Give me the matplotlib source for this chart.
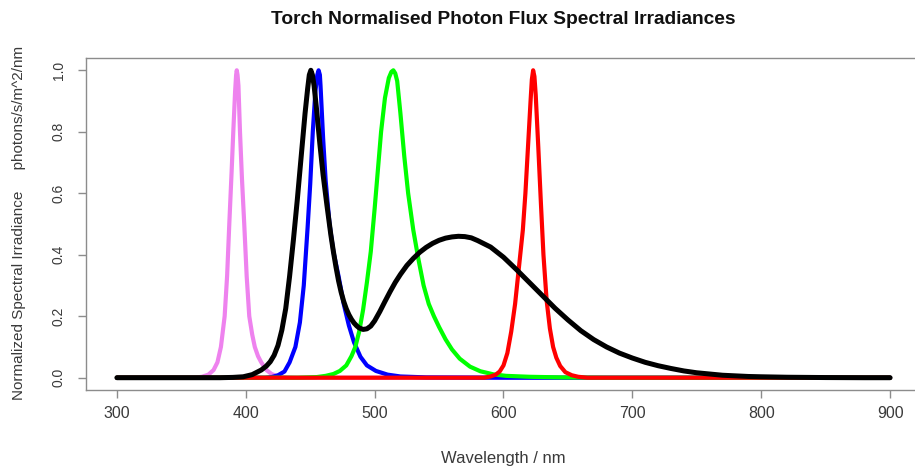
"""Torch normalised photon flux spectra, redrawn in matplotlib."""
import matplotlib
matplotlib.use("Agg")
import matplotlib.pyplot as plt

# wavelength (nm) / normalised value pairs
violet_wl = [300, 360, 366, 371, 375, 378, 380.7, 383.6, 385.5, 387.2, 389, 390.3,
             391.7, 392.5, 393, 393.6, 394.3, 395.5, 397, 398.8, 400.7, 402.7, 405,
             407, 409.5, 412, 416, 420, 425, 432, 440, 900]
violet_val = [0, 0, 0.003, 0.01, 0.025, 0.05, 0.1, 0.2, 0.33, 0.5, 0.67, 0.8,
              0.93, 0.985, 1.0, 0.985, 0.95, 0.8, 0.65, 0.5, 0.33, 0.2, 0.14,
              0.1, 0.07, 0.05, 0.025, 0.012, 0.004, 0.001, 0, 0]

blue_wl = [300, 415, 420, 425, 430, 434, 438.5, 442, 445, 448, 450, 452, 454,
           455.5, 456.5, 457.5, 458, 460, 462, 465, 468, 472, 476, 480, 484,
           489, 494, 501, 510, 520, 540, 600, 900]
blue_val = [0, 0, 0.002, 0.008, 0.02, 0.05, 0.1, 0.18, 0.3, 0.49, 0.63, 0.8, 0.93,
            0.985, 1.0, 0.985, 0.95, 0.78, 0.64, 0.5, 0.41, 0.33, 0.24, 0.17, 0.115,
            0.068, 0.04, 0.022, 0.01, 0.004, 0.001, 0, 0]

green_wl = [300, 440, 455, 462, 468, 473, 478, 482, 485, 488, 491, 494, 497, 500,
            502, 505, 508, 511, 513, 514.5, 516, 517.5, 520, 523, 526, 530, 534,
            538, 542, 546, 550, 555, 560, 566, 574, 582, 592, 602, 620, 645, 680,
            900]
green_val = [0, 0, 0.002, 0.006, 0.012, 0.022, 0.04, 0.07, 0.1, 0.15, 0.22, 0.31,
             0.41, 0.55, 0.65, 0.8, 0.91, 0.975, 0.995, 1.0, 0.99, 0.965, 0.86, 0.72,
             0.6, 0.48, 0.385, 0.3, 0.24, 0.2, 0.165, 0.125, 0.092, 0.062, 0.036,
             0.021, 0.011, 0.006, 0.003, 0.001, 0, 0]

red_wl = [300, 585, 590, 594, 597, 600, 603, 606, 609, 612, 615, 617, 619, 621,
          622, 623, 624, 625, 627, 629, 631, 633.5, 636, 638.5, 641, 644, 648,
          653, 658, 665, 900]
red_val = [0, 0, 0.004, 0.01, 0.02, 0.04, 0.08, 0.15, 0.24, 0.36, 0.48, 0.6, 0.75,
           0.9, 0.97, 1.0, 0.98, 0.92, 0.75, 0.57, 0.4, 0.25, 0.16, 0.1, 0.065,
           0.038, 0.018, 0.008, 0.003, 0, 0]

black_wl = [300, 380, 390, 398, 405, 412, 416, 419, 422, 425, 428, 431, 434, 437,
            440, 443, 446, 448, 449.3, 450.5, 451.7, 453, 455, 457.5, 460, 463,
            466, 468, 470, 472, 474, 476, 478, 480, 482, 484, 486, 488, 491, 494,
            497, 500, 504, 508, 512, 516, 520, 525, 530, 535, 540, 545, 550, 555,
            560, 565, 570, 575, 580, 590, 600, 610, 620, 630, 640, 650, 660, 670,
            680, 690, 700, 710, 720, 730, 740, 750, 760, 770, 780, 790, 800, 820,
            850, 880, 900]
black_val = [0, 0, 0.001, 0.003, 0.01, 0.025, 0.038, 0.052, 0.073, 0.105, 0.155,
             0.225, 0.33, 0.45, 0.58, 0.72, 0.86, 0.94, 0.985, 1.0, 0.985, 0.95,
             0.87, 0.76, 0.66, 0.56, 0.465, 0.41, 0.36, 0.315, 0.278, 0.248, 0.224,
             0.205, 0.19, 0.178, 0.169, 0.162, 0.157, 0.159, 0.168, 0.185, 0.215,
             0.248, 0.28, 0.31, 0.336, 0.365, 0.388, 0.408, 0.424, 0.437, 0.447,
             0.454, 0.458, 0.46, 0.459, 0.455, 0.446, 0.425, 0.392, 0.352, 0.31,
             0.268, 0.226, 0.188, 0.153, 0.124, 0.1, 0.08, 0.064, 0.05, 0.039,
             0.03, 0.022, 0.016, 0.012, 0.008, 0.006, 0.004, 0.003, 0.0015, 0.0005,
             0, 0]

x_ticks = [300, 400, 500, 600, 700, 800, 900]
y_ticks = [0.0, 0.2, 0.4, 0.6, 0.8, 1.0]

TITLE = "Torch Normalised Photon Flux Spectral Irradiances"
XLABEL = "Wavelength / nm"
YLABEL = "Normalized Spectral Irradiance     photons/s/m^2/nm"

plt.rcParams["font.family"] = ["Liberation Sans", "DejaVu Sans"]

W, H = 915, 468
fig = plt.figure(figsize=(W / 100, H / 100), dpi=100)
# box runs from px 86 to 921 (right edge falls off the image), 58 to 390 vertically
ax = fig.add_axes([86 / W, (H - 390) / H, (921 - 86) / W, (390 - 58) / H])

line_kw = dict(solid_capstyle="round", solid_joinstyle="round")
ax.plot(violet_wl, violet_val, color="violet", lw=3.0, **line_kw)
ax.plot(blue_wl, blue_val, color="blue", lw=3.0, **line_kw)
ax.plot(green_wl, green_val, color="#00ff00", lw=3.0, **line_kw)
ax.plot(red_wl, red_val, color="red", lw=3.0, **line_kw)
ax.plot(black_wl, black_val, color="black", lw=3.6, **line_kw)

ax.set_xlim(276, 924)
ax.set_ylim(-0.04, 1.04)
ax.set_xticks(x_ticks)
ax.set_xticklabels([str(t) for t in x_ticks])
ax.set_yticks(y_ticks)
ax.set_yticklabels([f"{t:.1f}" for t in y_ticks], rotation=90, va="center")

for sp in ax.spines.values():
    sp.set_color("#8c8c8c")
    sp.set_linewidth(1.0)
ax.tick_params(axis="both", direction="out", length=5.5, width=1.0,
               color="#8c8c8c", labelcolor="#3a3a3a")
ax.tick_params(axis="x", pad=6, labelsize=11.5)
ax.tick_params(axis="y", pad=9, labelsize=10)

fig.text(503.5 / W, 1 - 20 / H, TITLE, ha="center", va="center",
         fontsize=13.8, fontweight="bold", color="#111111")
fig.text(503.5 / W, 1 - 458 / H, XLABEL, ha="center", va="center",
         fontsize=12, color="#3a3a3a")
fig.text(19 / W, 1 - 223 / H, YLABEL, ha="center", va="center", rotation=90,
         fontsize=11, color="#3a3a3a")

fig.savefig("out.png", dpi=100)
